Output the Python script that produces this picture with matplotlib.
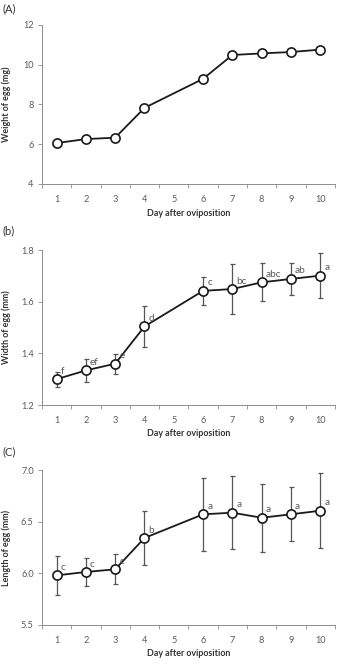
import matplotlib
matplotlib.use("Agg")
import matplotlib.pyplot as plt

# ---------------- data ----------------
days = [1, 2, 3, 4, 6, 7, 8, 9, 10]
day_ticks = [1, 2, 3, 4, 5, 6, 7, 8, 9, 10]

weight = [6.06, 6.26, 6.33, 7.83, 9.29, 10.49, 10.57, 10.64, 10.76]

width = [1.300, 1.334, 1.360, 1.504, 1.642, 1.649, 1.675, 1.688, 1.701]
width_err = [0.029, 0.045, 0.039, 0.080, 0.055, 0.098, 0.073, 0.063, 0.088]
width_letters = ["f", "ef", "e", "d", "c", "bc", "abc", "ab", "a"]

length = [5.98, 6.013, 6.039, 6.342, 6.571, 6.587, 6.538, 6.571, 6.606]
length_err = [0.187, 0.138, 0.145, 0.265, 0.353, 0.353, 0.330, 0.260, 0.365]
length_letters = ["c", "c", "c", "b", "a", "a", "a", "a", "a"]

plt.rcParams["font.family"] = ["Lato", "DejaVu Sans"]
GRAY = "#595959"
AXIS = "#8c8c8c"

fig = plt.figure(figsize=(3.37, 6.70), dpi=100)


def style_axes(ax, ylim, yticks, fmt, ylabel):
    ax.set_xlim(0.5, 10.5)
    ax.set_ylim(*ylim)
    ax.set_yticks(yticks)
    ax.set_yticklabels([fmt.format(v) for v in yticks])
    ax.set_xticks(day_ticks)
    ax.set_xticks([d - 0.5 for d in day_ticks] + [10.5], minor=True)
    ax.tick_params(axis="x", which="major", length=0, pad=8, labelsize=6.6, labelcolor=GRAY)
    ax.tick_params(axis="x", which="minor", length=3, width=0.6, color=AXIS, direction="out")
    ax.tick_params(axis="y", length=3, width=0.6, color=AXIS, pad=3, labelsize=6.6, labelcolor=GRAY)
    for s in ["top", "right"]:
        ax.spines[s].set_visible(False)
    for s in ["left", "bottom"]:
        ax.spines[s].set_color(AXIS)
        ax.spines[s].set_linewidth(0.7)
    ax.set_xlabel("Day after oviposition", fontsize=6.4, fontweight="bold", color="#333333")
    ax.xaxis.set_label_coords(0.5, -0.155)
    ax.set_ylabel(ylabel, fontsize=6.4, fontweight="bold", color="#333333")
    ax.yaxis.set_label_coords(-0.105, 0.5)


def draw_series(ax, y, err=None, letters=None):
    if err is not None:
        ax.errorbar(days, y, yerr=err, fmt="none", ecolor="#555555",
                    elinewidth=0.9, capsize=1.8, capthick=0.9, zorder=2)
    ax.plot(days, y, color="#1a1a1a", lw=1.3, marker="o", ms=6.6,
            mfc="white", mec="#1a1a1a", mew=1.2, zorder=3)
    if letters is not None:
        for d, v, t in zip(days, y, letters):
            ax.annotate(t, (d, v), xytext=(3, 2.5), textcoords="offset points",
                        ha="left", va="bottom", fontsize=7.2, color=GRAY)


# (A) weight
axA = fig.add_axes([0.1246, 0.7254, 0.869, 0.2373])
draw_series(axA, weight)
style_axes(axA, (4, 12), [4, 6, 8, 10, 12], "{:g}", "Weight of egg (mg)")

# (b) width
axB = fig.add_axes([0.1246, 0.3955, 0.869, 0.2313])
draw_series(axB, width, width_err, width_letters)
style_axes(axB, (1.2, 1.8), [1.2, 1.4, 1.6, 1.8], "{:.1f}", "Width of egg (mm)")

# (C) length
axC = fig.add_axes([0.1246, 0.0672, 0.869, 0.2313])
draw_series(axC, length, length_err, length_letters)
style_axes(axC, (5.5, 7.0), [5.5, 6.0, 6.5, 7.0], "{:.1f}", "Length of egg (mm)")

fig.text(0.008, 0.987, "(A)", fontsize=8, color="#333333", va="center")
fig.text(0.008, 0.655, "(b)", fontsize=8, color="#333333", va="center")
fig.text(0.008, 0.325, "(C)", fontsize=8, color="#333333", va="center")

fig.savefig("out.png", dpi=100)
